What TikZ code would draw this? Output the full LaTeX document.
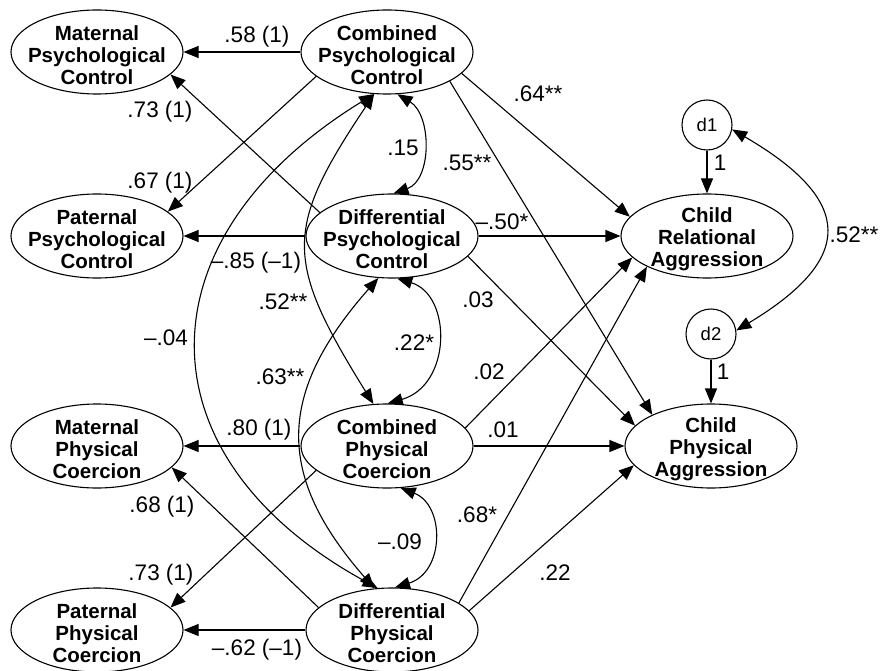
\documentclass[tikz,border=0pt]{standalone}
\usepackage{fontspec}
\setmainfont{Liberation Sans}
\usetikzlibrary{shapes.geometric,arrows.meta}
\begin{document}
\begin{tikzpicture}[x=1pt,y=-1pt,
  lv/.style={draw, ellipse, minimum width=172pt, minimum height=84pt, inner sep=0pt, line width=1.1pt},
  ntext/.style={align=center, font=\fontsize{20.5}{22}\selectfont\bfseries, inner sep=0pt, yshift=-3pt},
  errc/.style={draw, circle, minimum size=50pt, inner sep=0pt, line width=1.1pt, font=\fontsize{18.5}{20}\selectfont},
  arr/.style={line width=1.1pt, -{Triangle[length=15pt,width=12pt]}},
  cov/.style={line width=1.1pt, {Triangle[length=15pt,width=12pt]}-{Triangle[length=15pt,width=12pt]}},
  lab/.style={font=\fontsize{22.5}{24}\selectfont, inner sep=0pt}
]
\useasboundingbox (0,0) rectangle (880,671);

% latent variables
\node[lv, label={[ntext]center:{Maternal\\Psychological\\Control}}] (mpc) at (97,52) {};
\node[lv, label={[ntext]center:{Combined\\Psychological\\Control}}] (cpc) at (387,52) {};
\node[lv, label={[ntext]center:{Paternal\\Psychological\\Control}}] (ppc) at (97,236) {};
\node[lv, label={[ntext]center:{Differential\\Psychological\\Control}}] (dpc) at (392,236) {};
\node[lv, label={[ntext]center:{Maternal\\Physical\\Coercion}}] (mphc) at (97,446) {};
\node[lv, label={[ntext]center:{Combined\\Physical\\Coercion}}] (cphc) at (387,446) {};
\node[lv, label={[ntext]center:{Paternal\\Physical\\Coercion}}] (pphc) at (97,630) {};
\node[lv, label={[ntext]center:{Differential\\Physical\\Coercion}}] (dphc) at (392,630) {};
\node[lv, label={[ntext]center:{Child\\Relational\\Aggression}}] (cra) at (707,236) {};
\node[lv, label={[ntext]center:{Child\\Physical\\Aggression}}] (cpa) at (711,446) {};
\node[errc] (d1) at (707,125) {d1};
\node[errc] (d2) at (711,334) {d2};

% loadings
\draw[arr] (cpc.west) -- (mpc.east);
\draw[arr] (cpc.199) -- (ppc.19);
\draw[arr] (dpc.162) -- (mpc.343);
\draw[arr] (dpc.west) -- (ppc.east);
\draw[arr] (cphc.west) -- (mphc.east);
\draw[arr] (cphc.199) -- (pphc.17);
\draw[arr] (dphc.163) -- (mphc.-16);
\draw[arr] (dphc.west) -- (pphc.east);

% structural paths
\draw[arr] (cpc.-16) -- (cra.166);
\draw[arr] (cpc.-25) -- (cpa.152);
\draw[arr] (dpc.east) -- (cra.west);
\draw[arr] (dpc.-15) -- (cpa.165);
\draw[arr] (cphc.13) -- (cra.196);
\draw[arr] (cphc.east) -- (cpa.west);
\draw[arr] (dphc.22) -- (cra.207);
\draw[arr] (dphc.14) -- (cpa.194);
\draw[arr] (d1.south) -- (cra.north);
\draw[arr] (d2.south) -- (cpa.north);

% covariances
\draw[cov] (d1.-10) .. controls (855,201) and (855,259) .. (d2.8);
\draw[cov] (cpc.-76) .. controls (432,115) and (432,180) .. (dpc.88);
\draw[cov] (dpc.-83) .. controls (452,295) and (452,385) .. (cphc.89);
\draw[cov] (cphc.-72) .. controls (445,505) and (445,572) .. (dphc.86);
\draw[cov] (cpc.-107) .. controls (284,229) and (284,260) .. (cphc.108);
\draw[cov] (dpc.-108) .. controls (276,394) and (276,476) .. (dphc.113);
\draw[cov] (cpc.-107) .. controls (138,239) and (138,457) .. (dphc.109);

% labels
\node[lab] (l1) at (257,37) {.58 (1)};
\node[lab] (l2) at (160,112) {.73 (1)};
\node[lab] (l3) at (160,183) {.67 (1)};
\node[lab] (l4) at (256,263) {–.85 (–1)};
\node[lab] (l5) at (259,430) {.80 (1)};
\node[lab] (l6) at (162,507) {.68 (1)};
\node[lab] (l7) at (161,575) {.73 (1)};
\node[lab] (l8) at (257,650) {–.62 (–1)};
\node[lab] (l9) at (538,94) {.64**};
\node[lab] (l10) at (467,163) {.55**};
\node[lab] (l11) at (502,222) {–.50*};
\node[lab] (l12) at (478,300) {.03};
\node[lab] (l13) at (489,372) {.02};
\node[lab] (l14) at (503,430) {.01};
\node[lab] (l15) at (477,515) {.68*};
\node[lab] (l16) at (555,573) {.22};
\node[lab] (l17) at (403,148) {.15};
\node[lab] (l18) at (414,343) {.22*};
\node[lab] (l19) at (400,542) {–.09};
\node[lab] (l20) at (283,302) {.52**};
\node[lab] (l21) at (280,377) {.63**};
\node[lab] (l22) at (166,338) {–.04};
\node[lab] (l23) at (720,163) {1};
\node[lab] (l24) at (723,372) {1};
\node[lab] (l25) at (854,235) {.52**};
\end{tikzpicture}
\end{document}
